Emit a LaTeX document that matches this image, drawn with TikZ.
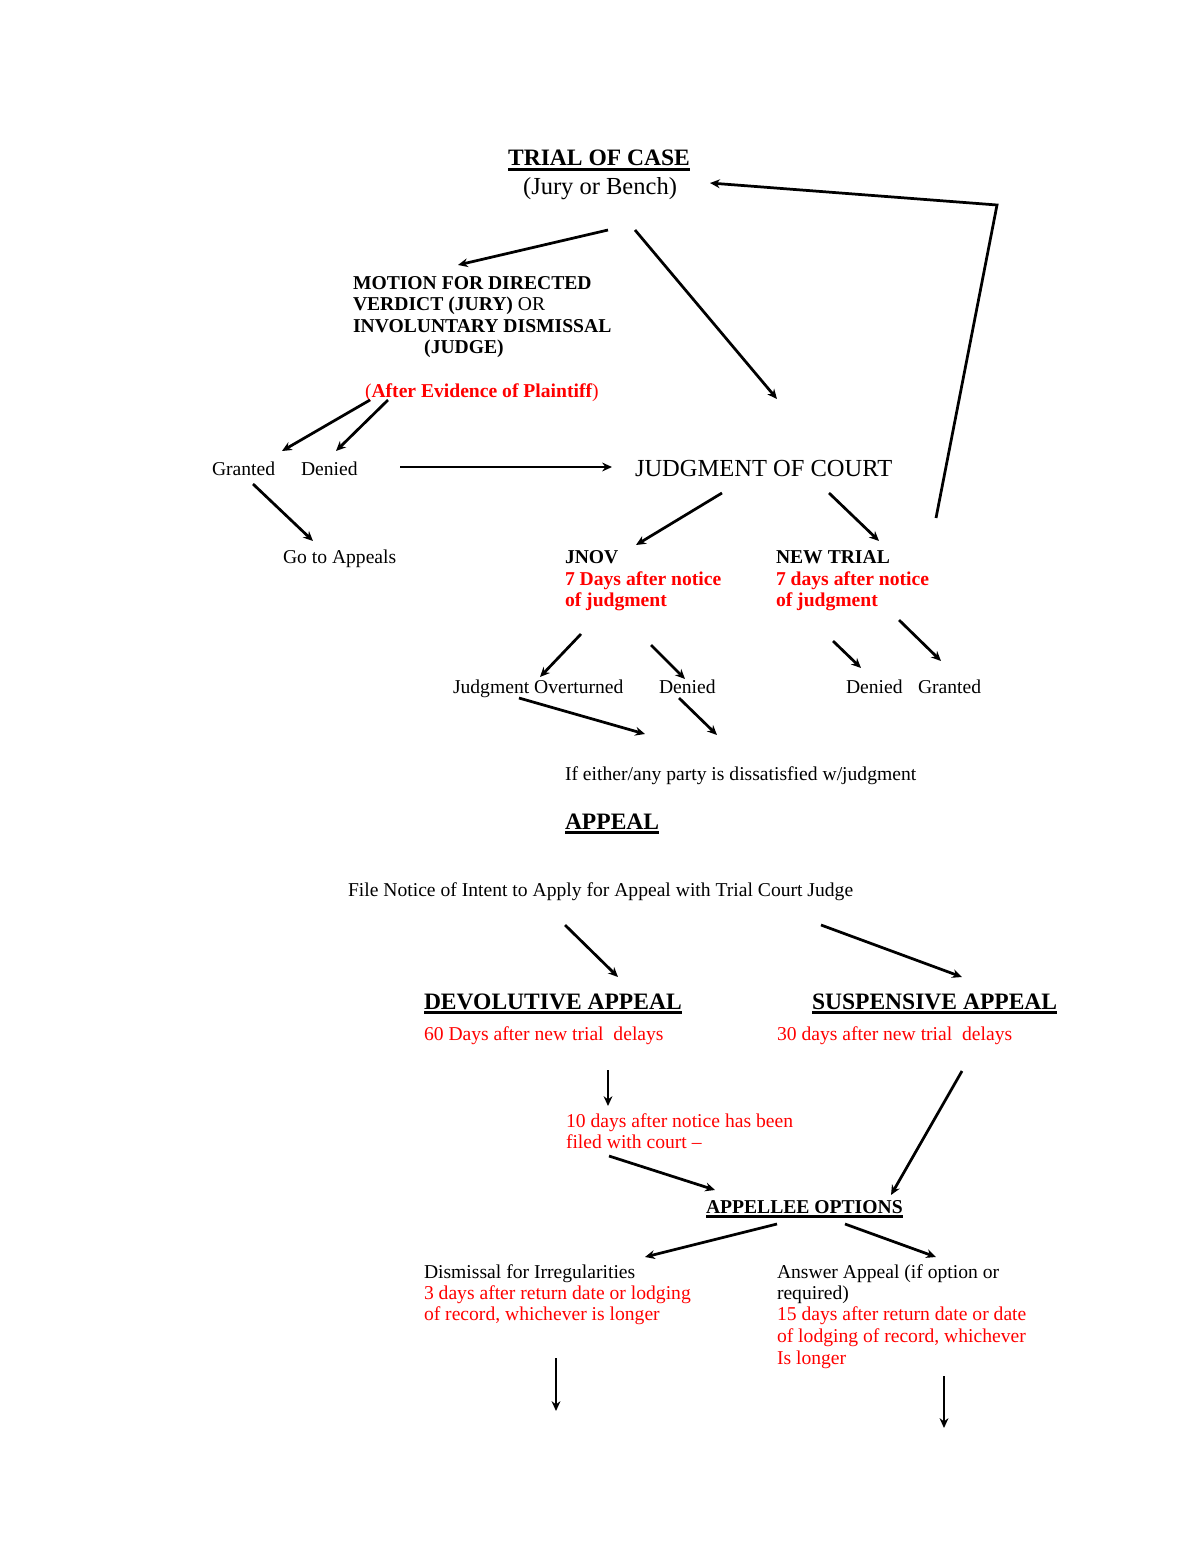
\documentclass[tikz,border=0pt]{standalone}
\usepackage{fontspec}
\setmainfont{Liberation Serif}
\usetikzlibrary{arrows.meta}
\begin{document}
\begin{tikzpicture}[x=0.51pt,y=-0.51pt,
 every node/.style={inner sep=0pt, outer sep=0pt},
 txt/.style={anchor=base west, font=\fontsize{10}{12}\selectfont},
 bld/.style={anchor=base west, font=\fontsize{10}{12}\selectfont\bfseries},
 big/.style={anchor=base, font=\fontsize{12.5}{14}\selectfont},
 head/.style={anchor=base west, font=\fontsize{12}{14}\selectfont\bfseries},
 rd/.style={text=red},
 arr/.style={line width=1.4pt, -{Stealth[length=5pt,width=4.5pt]}},
 ul/.style={line width=1.4pt}]

\fill[white] (0,0) rectangle (1200,1553);
\useasboundingbox (0,0) rectangle (1200,1553);

% ---------- texts ----------
\node[head, anchor=base] (trial) at (599,166) {TRIAL OF CASE};
\node[big] (jury) at (600,194) {(Jury or Bench)};
\node[bld] (m1) at (353,289) {MOTION FOR DIRECTED};
\node[bld] (m2) at (353,310) {VERDICT (JURY) {\mdseries OR}};
\node[bld] (m3) at (353,332) {INVOLUNTARY DISMISSAL};
\node[bld,anchor=base] (m4) at (464,353) {(JUDGE)};
\node[bld,rd] (after) at (365,397) {{\mdseries(}After Evidence of Plaintiff{\mdseries)}};
\node[txt] (gr1) at (212,475) {Granted};
\node[txt] (de1) at (301,475) {Denied};
\node[big, anchor=base west] (judg) at (635,476) {JUDGMENT OF COURT};
\node[txt] (goapp) at (283,563) {Go to Appeals};
\node[bld] (jnov) at (565,563) {JNOV};
\node[bld,rd] (jnov2) at (565,585) {7 Days after notice};
\node[bld,rd] (jnov3) at (565,606) {of judgment};
\node[bld] (nt) at (776,563) {NEW TRIAL};
\node[bld,rd] (nt2) at (776,585) {7 days after notice};
\node[bld,rd] (nt3) at (776,606) {of judgment};
\node[txt] (jo) at (453,693) {Judgment Overturned};
\node[txt] (de2) at (659,693) {Denied};
\node[txt] (de3) at (846,693) {Denied};
\node[txt] (gr3) at (918,693) {Granted};
\node[txt] (diss) at (565,780) {If either/any party is dissatisfied w/judgment};
\node[head] (appeal) at (565,829) {APPEAL};
\node[txt] (file) at (348,896) {File Notice of Intent to Apply for Appeal with Trial Court Judge};
\node[head] (dev) at (424,1009) {DEVOLUTIVE APPEAL};
\node[head] (sus) at (812,1009) {SUSPENSIVE APPEAL};
\node[txt,rd] (dev2) at (424,1040) {60 Days after new trial\ \ delays};
\node[txt,rd] (sus2) at (777,1040) {30 days after new trial\ \ delays};
\node[txt,rd] (ten1) at (566,1127) {10 days after notice has been};
\node[txt,rd] (ten2) at (566,1148) {filed with court --};
\node[bld] (appo) at (706,1213) {APPELLEE OPTIONS};
\node[txt] (dis1) at (424,1278) {Dismissal for Irregularities};
\node[txt,rd] (dis2) at (424,1299) {3 days after return date or lodging};
\node[txt,rd] (dis3) at (424,1320) {of record, whichever is longer};
\node[txt] (ans1) at (777,1278) {Answer Appeal (if option or};
\node[txt] (ans2) at (777,1299) {required)};
\node[txt,rd] (ans3) at (777,1320) {15 days after return date or date};
\node[txt,rd] (ans4) at (777,1342) {of lodging of record, whichever};
\node[txt,rd] (ans5) at (777,1364) {Is longer};

% ---------- underlines ----------
\foreach \n in {trial,appeal,dev,sus,appo}
  \draw[ul] ([yshift=-1.6pt]\n.base west) -- ([yshift=-1.6pt]\n.base east);

% ---------- connector end points ----------
\coordinate (a1s) at (608,230);  \coordinate (a1e) at (458,265);
\coordinate (a2s) at (635,230);  \coordinate (a2e) at (777,399);
\coordinate (fbs) at (936,518);  \coordinate (fbc) at (997,205);  \coordinate (fbe) at (710,183);
\coordinate (a4s) at (370,400);  \coordinate (a4e) at (282,451);
\coordinate (a5s) at (388,400);  \coordinate (a5e) at (336,451);
\coordinate (a6s) at (400,467);  \coordinate (a6e) at (612,467);
\coordinate (a7s) at (253,484);  \coordinate (a7e) at (313,541);
\coordinate (a8s) at (722,493);  \coordinate (a8e) at (636,545);
\coordinate (a9s) at (829,493);  \coordinate (a9e) at (879,541);
\coordinate (b1s) at (581,634);  \coordinate (b1e) at (540,677);
\coordinate (b2s) at (651,645);  \coordinate (b2e) at (685,679);
\coordinate (b3s) at (833,641);  \coordinate (b3e) at (861,668);
\coordinate (b4s) at (899,620);  \coordinate (b4e) at (941,661);
\coordinate (b5s) at (519,698);  \coordinate (b5e) at (645,734);
\coordinate (b6s) at (679,698);  \coordinate (b6e) at (717,735);
\coordinate (c1s) at (565,925);  \coordinate (c1e) at (618,977);
\coordinate (c2s) at (821,925);  \coordinate (c2e) at (962,977);
\coordinate (c3s) at (608,1070); \coordinate (c3e) at (608,1106);
\coordinate (c4s) at (962,1071); \coordinate (c4e) at (891,1195);
\coordinate (c5s) at (609,1156); \coordinate (c5e) at (715,1190);
\coordinate (d1s) at (777,1224); \coordinate (d1e) at (645,1257);
\coordinate (d2s) at (845,1224); \coordinate (d2e) at (936,1257);
\coordinate (d3s) at (556,1358); \coordinate (d3e) at (556,1411);
\coordinate (d4s) at (944,1376); \coordinate (d4e) at (944,1428);

% ---------- connectors ----------
\draw[arr] (a1s) -- (a1e);
\draw[arr] (a2s) -- (a2e);
\draw[arr] (fbs) -- (fbc) -- (fbe);
\draw[arr] (a4s) -- (a4e);
\draw[arr] (a5s) -- (a5e);
\draw[arr] (a6s) -- (a6e);
\draw[arr] (a7s) -- (a7e);
\draw[arr] (a8s) -- (a8e);
\draw[arr] (a9s) -- (a9e);
\draw[arr] (b1s) -- (b1e);
\draw[arr] (b2s) -- (b2e);
\draw[arr] (b3s) -- (b3e);
\draw[arr] (b4s) -- (b4e);
\draw[arr] (b5s) -- (b5e);
\draw[arr] (b6s) -- (b6e);
\draw[arr] (c1s) -- (c1e);
\draw[arr] (c2s) -- (c2e);
\draw[arr] (c3s) -- (c3e);
\draw[arr] (c4s) -- (c4e);
\draw[arr] (c5s) -- (c5e);
\draw[arr] (d1s) -- (d1e);
\draw[arr] (d2s) -- (d2e);
\draw[arr] (d3s) -- (d3e);
\draw[arr] (d4s) -- (d4e);
\end{tikzpicture}
\end{document}
